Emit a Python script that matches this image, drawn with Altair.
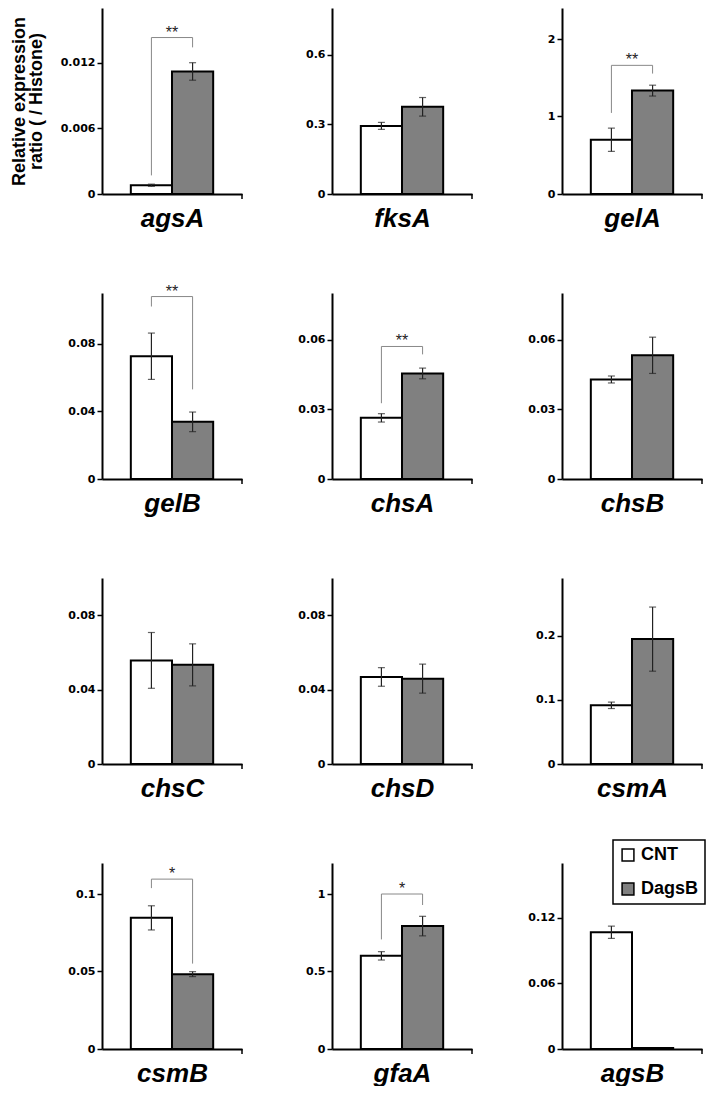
import altair as alt
import pandas as pd

# ---- data ----
genes = ["agsA", "fksA", "gelA", "gelB", "chsA", "chsB",
         "chsC", "chsD", "csmA", "csmB", "gfaA", "agsB"]
groups = ["CNT", "DagsB"]
cnt = [0.0008, 0.293, 0.70, 0.0726, 0.0263, 0.0428,
       0.0557, 0.0468, 0.0915, 0.0846, 0.601, 0.1067]
cnt_err = [0.0001, 0.015, 0.15, 0.0137, 0.0018, 0.0015,
           0.015, 0.005, 0.005, 0.0078, 0.027, 0.0056]
dagsb = [0.0112, 0.375, 1.334, 0.0338, 0.0454, 0.0532,
         0.0533, 0.0459, 0.1947, 0.0483, 0.793, 0.0008]
dagsb_err = [0.0008, 0.04, 0.07, 0.0058, 0.0023, 0.0078,
             0.0113, 0.0078, 0.05, 0.0016, 0.063, 0.0]
ymax = [0.017, 0.8, 2.4, 0.11, 0.08, 0.08, 0.1, 0.1, 0.29, 0.12, 1.2, 0.17]
tick_values = [[0, 0.006, 0.012], [0, 0.3, 0.6], [0, 1, 2],
               [0, 0.04, 0.08], [0, 0.03, 0.06], [0, 0.03, 0.06],
               [0, 0.04, 0.08], [0, 0.04, 0.08], [0, 0.1, 0.2],
               [0, 0.05, 0.1], [0, 0.5, 1], [0, 0.06, 0.12]]

sig_genes = ["agsA", "gelA", "gelB", "chsA", "csmB", "gfaA"]
sig_marks = ["**", "**", "**", "**", "*", "*"]
sig_top = [0.0143, 1.66, 0.1079, 0.057, 0.1096, 1.0]
sig_left = [0.0017, 1.046, 0.102, 0.0326, 0.1038, 0.707]
sig_right = [0.0134, 1.554, 0.053, 0.0536, 0.0551, 0.929]

y_title = ["Relative expression", "ratio ( / Histone)"]

W, H = 140, 186
FONT = "Liberation Sans"


def panel(i):
    g = genes[i]
    df = pd.DataFrame({
        "group": groups,
        "value": [cnt[i], dagsb[i]],
        "err": [cnt_err[i], dagsb_err[i]],
    })
    df["lo"] = df["value"] - df["err"]
    df["hi"] = df["value"] + df["err"]

    def xs():
        return alt.Scale(domain=groups, paddingInner=0, paddingOuter=0.7)

    def ys():
        return alt.Scale(domain=[0, ymax[i]], nice=False, zero=True)

    yaxis_kw = dict(
        values=tick_values[i], format="~g", grid=False,
        labelFont="DejaVu Sans", labelFontSize=11, labelFontWeight="bold",
        labelColor="black", labelPadding=2,
        tickColor="black", tickSize=5, tickWidth=1.5,
        domainColor="black", domainWidth=2,
    )
    if i == 0:
        yaxis_kw.update(title=y_title, titleFont=FONT, titleFontSize=18,
                        titleFontWeight="bold", titleColor="black",
                        titleLineHeight=17, titlePadding=15,
                        minExtent=42, maxExtent=42)
    else:
        yaxis_kw.update(title=None)

    xaxis = alt.Axis(title=g, labels=False, ticks=False, domain=True,
                     domainColor="black", domainWidth=2,
                     titleFont=FONT, titleFontSize=26, titleFontStyle="italic",
                     titleFontWeight="bold", titleColor="black", titlePadding=11)

    if i == len(genes) - 1:
        leg = alt.Legend(title=None, orient="none", legendX=51, legendY=-23,
                         direction="vertical", symbolType="square",
                         symbolSize=140, symbolStrokeColor="black",
                         symbolStrokeWidth=1.5, labelFont=FONT,
                         labelFontSize=18, labelFontWeight="bold",
                         labelColor="black", strokeColor="black",
                         fillColor="white", padding=6, labelOffset=4,
                         rowPadding=16)
    else:
        leg = None

    base = alt.Chart(df)
    bars = base.mark_bar(stroke="black", strokeWidth=2).encode(
        x=alt.X("group:N", scale=xs(), axis=xaxis),
        y=alt.Y("value:Q", scale=ys(), axis=alt.Axis(**yaxis_kw)),
        fill=alt.Fill("group:N", scale=alt.Scale(domain=groups,
                                                 range=["#ffffff", "#808080"]),
                      legend=leg),
    )
    eb = base.transform_filter("datum.err > 0")
    rule = eb.mark_rule(color="#222222", strokeWidth=1.2).encode(
        x=alt.X("group:N", scale=xs()),
        y=alt.Y("lo:Q", scale=ys()),
        y2="hi:Q",
    )
    cap_lo = eb.mark_tick(color="#222222", size=7, thickness=1.2).encode(
        x=alt.X("group:N", scale=xs()),
        y=alt.Y("lo:Q", scale=ys()),
    )
    cap_hi = eb.mark_tick(color="#222222", size=7, thickness=1.2).encode(
        x=alt.X("group:N", scale=xs()),
        y=alt.Y("hi:Q", scale=ys()),
    )
    end_tick = alt.Chart(pd.DataFrame({"a": [0]})).mark_rule(
        color="black", strokeWidth=1.5).encode(
        x=alt.value(W), y=alt.value(H), y2=alt.value(H + 5))

    layers = [bars, rule, cap_lo, cap_hi, end_tick]

    if g in sig_genes:
        k = sig_genes.index(g)
        br = pd.DataFrame({
            "group": ["CNT", "CNT", "DagsB", "DagsB"],
            "yv": [sig_left[k], sig_top[k], sig_top[k], sig_right[k]],
            "order": [0, 1, 2, 3],
        })
        bracket = alt.Chart(br).mark_line(color="#888888", strokeWidth=1).encode(
            x=alt.X("group:N", scale=xs()),
            y=alt.Y("yv:Q", scale=ys()),
            order="order:Q",
        )
        st = pd.DataFrame({"group": ["DagsB"], "yv": [sig_top[k]],
                           "label": [sig_marks[k]]})
        star = alt.Chart(st).mark_text(font=FONT, fontSize=16,
                                       baseline="alphabetic", align="center",
                                       color="#222222").encode(
            x=alt.X("group:N", scale=xs(), bandPosition=0),
            y=alt.Y("yv:Q", scale=ys()),
            text="label:N",
        )
        layers += [bracket, star]

    return alt.layer(*layers).properties(width=W, height=H)


chart = alt.concat(*[panel(i) for i in range(len(genes))], columns=3,
                   spacing={"row": 99, "column": 90}, bounds="flush").resolve_scale(
    fill="independent").resolve_legend(fill="independent").properties(
    padding={"left": 2, "top": 0, "right": 0, "bottom": 0}
).configure_view(stroke=None).configure_legend(strokeWidth=1.5)

chart.save("out.html", embed_options={"renderer": "svg", "actions": False})
